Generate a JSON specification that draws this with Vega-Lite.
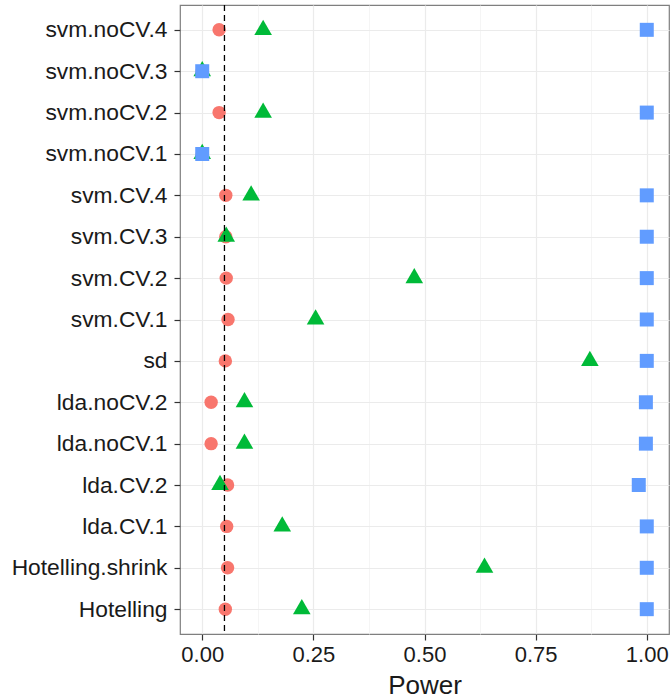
{
  "$schema": "https://vega.github.io/schema/vega-lite/v6.json",
  "autosize": {"type": "none"},
  "padding": {"left": 180, "top": 5, "right": 1, "bottom": 65},
  "width": 489,
  "height": 629,
  "background": "white",
  "config": {
    "view": {"stroke": "#7f7f7f", "strokeWidth": 1.2},
    "axis": {
      "labelFont": "Liberation Sans",
      "titleFont": "Liberation Sans",
      "labelColor": "#1a1a1a",
      "titleColor": "#1a1a1a",
      "tickColor": "#333333",
      "domain": false,
      "gridColor": "#EBEBEB"
    }
  },
  "layer": [
    {
      "data": {
        "values": [
          {"method": "svm.noCV.4", "group": "a", "power": 0.038},
          {"method": "svm.noCV.3", "group": "a", "power": 0.0},
          {"method": "svm.noCV.2", "group": "a", "power": 0.038},
          {"method": "svm.noCV.1", "group": "a", "power": 0.0},
          {"method": "svm.CV.4", "group": "a", "power": 0.053},
          {"method": "svm.CV.3", "group": "a", "power": 0.053},
          {"method": "svm.CV.2", "group": "a", "power": 0.054},
          {"method": "svm.CV.1", "group": "a", "power": 0.058},
          {"method": "sd", "group": "a", "power": 0.052},
          {"method": "lda.noCV.2", "group": "a", "power": 0.02},
          {"method": "lda.noCV.1", "group": "a", "power": 0.02},
          {"method": "lda.CV.2", "group": "a", "power": 0.057},
          {"method": "lda.CV.1", "group": "a", "power": 0.055},
          {"method": "Hotelling.shrink", "group": "a", "power": 0.057},
          {"method": "Hotelling", "group": "a", "power": 0.052},
          {"method": "svm.noCV.4", "group": "b", "power": 0.137},
          {"method": "svm.noCV.3", "group": "b", "power": 0.0},
          {"method": "svm.noCV.2", "group": "b", "power": 0.137},
          {"method": "svm.noCV.1", "group": "b", "power": 0.0},
          {"method": "svm.CV.4", "group": "b", "power": 0.11},
          {"method": "svm.CV.3", "group": "b", "power": 0.054},
          {"method": "svm.CV.2", "group": "b", "power": 0.477},
          {"method": "svm.CV.1", "group": "b", "power": 0.255},
          {"method": "sd", "group": "b", "power": 0.872},
          {"method": "lda.noCV.2", "group": "b", "power": 0.095},
          {"method": "lda.noCV.1", "group": "b", "power": 0.095},
          {"method": "lda.CV.2", "group": "b", "power": 0.04},
          {"method": "lda.CV.1", "group": "b", "power": 0.18},
          {"method": "Hotelling.shrink", "group": "b", "power": 0.635},
          {"method": "Hotelling", "group": "b", "power": 0.224},
          {"method": "svm.noCV.4", "group": "c", "power": 1.0},
          {"method": "svm.noCV.3", "group": "c", "power": 0.0},
          {"method": "svm.noCV.2", "group": "c", "power": 1.0},
          {"method": "svm.noCV.1", "group": "c", "power": 0.0},
          {"method": "svm.CV.4", "group": "c", "power": 1.0},
          {"method": "svm.CV.3", "group": "c", "power": 1.0},
          {"method": "svm.CV.2", "group": "c", "power": 1.0},
          {"method": "svm.CV.1", "group": "c", "power": 1.0},
          {"method": "sd", "group": "c", "power": 1.0},
          {"method": "lda.noCV.2", "group": "c", "power": 0.998},
          {"method": "lda.noCV.1", "group": "c", "power": 0.998},
          {"method": "lda.CV.2", "group": "c", "power": 0.982},
          {"method": "lda.CV.1", "group": "c", "power": 1.0},
          {"method": "Hotelling.shrink", "group": "c", "power": 1.0},
          {"method": "Hotelling", "group": "c", "power": 1.0}
        ]
      },
      "mark": {"type": "point", "filled": true, "opacity": 1, "strokeWidth": 0},
      "encoding": {
        "x": {
          "field": "power",
          "type": "quantitative",
          "title": "Power",
          "scale": {"domain": [-0.05, 1.05], "nice": false, "zero": false},
          "axis": {
            "values": [0, 0.125, 0.25, 0.375, 0.5, 0.625, 0.75, 0.875, 1],
            "labelExpr": "(datum.value * 4) % 1 == 0 ? format(datum.value, '.2f') : ''",
            "labelFontSize": 22,
            "labelPadding": 4,
            "tickSize": 6,
            "tickWidth": 1.2,
            "tickOpacity": {"condition": {"test": "(datum.value * 4) % 1 != 0", "value": 0}, "value": 1},
            "gridWidth": {"condition": {"test": "(datum.value * 4) % 1 != 0", "value": 0.8}, "value": 1.2},
            "gridColor": {"condition": {"test": "(datum.value * 4) % 1 != 0", "value": "#F2F2F2"}, "value": "#EBEBEB"},
            "titleFontSize": 26,
            "titleFontWeight": "normal",
            "titlePadding": 7
          }
        },
        "y": {
          "field": "method",
          "type": "nominal",
          "title": null,
          "scale": {
            "type": "point",
            "padding": 0.6,
            "domain": ["svm.noCV.4", "svm.noCV.3", "svm.noCV.2", "svm.noCV.1", "svm.CV.4", "svm.CV.3", "svm.CV.2", "svm.CV.1", "sd", "lda.noCV.2", "lda.noCV.1", "lda.CV.2", "lda.CV.1", "Hotelling.shrink", "Hotelling"]
          },
          "axis": {
            "grid": true,
            "labelFontSize": 22.8,
            "labelPadding": 7,
            "tickSize": 6,
            "tickWidth": 1.2,
            "gridWidth": 1.2
          }
        },
        "color": {
          "field": "group",
          "type": "nominal",
          "scale": {"domain": ["a", "b", "c"], "range": ["#F8766D", "#00BA38", "#619CFF"]},
          "legend": null
        },
        "shape": {
          "field": "group",
          "type": "nominal",
          "scale": {"domain": ["a", "b", "c"], "range": ["circle", "M0,-1.155L1,0.577L-1,0.577Z", "square"]},
          "legend": null
        },
        "size": {
          "field": "group",
          "type": "nominal",
          "scale": {"type": "ordinal", "domain": ["a", "b", "c"], "range": [180, 310, 196]},
          "legend": null
        }
      }
    },
    {
      "data": {"values": [{"ref": 0.05}]},
      "mark": {"type": "rule", "color": "black", "strokeWidth": 1.3, "strokeDash": [6, 4]},
      "encoding": {"x": {"field": "ref", "type": "quantitative"}}
    }
  ]
}
